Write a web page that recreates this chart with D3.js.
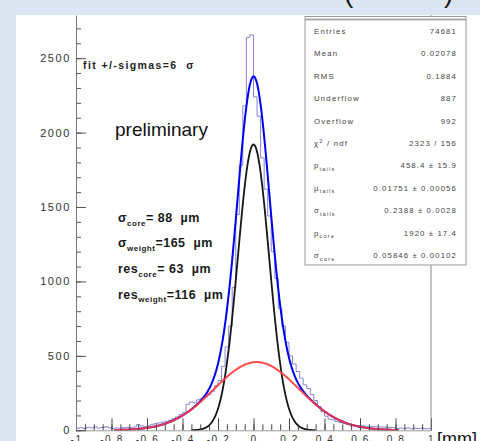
<!DOCTYPE html>
<html><head><meta charset="utf-8">
<script src="https://cdn.jsdelivr.net/npm/d3@7"></script>
<style>
body{margin:0;background:#dce6f2;}
svg{display:block;font-family:"Liberation Sans",Arial,Helvetica,sans-serif;}
</style>
</head><body>
<svg id="c" width="480" height="441"></svg>
<script>
// ---------- data ----------
const binLow = -1, binWidth = 0.02;
const counts = [
  14, 18, 12, 20, 16, 22, 15, 19, 24, 17,
  12, 16, 14, 18, 20, 17, 22, 38, 30, 26,
  30, 40, 45, 50, 55, 60, 66, 78, 90, 105,
  118, 175, 190, 185, 205, 215, 225, 240, 262, 300,
  335, 430, 560, 700, 960, 1450, 1780, 2180, 2640, 2657,
  2240, 2110, 1830, 1620, 1440, 1200, 1020, 820, 700, 590,
  500, 445, 395, 350, 305, 280, 240, 200, 160, 125,
  95, 75, 70, 60, 52, 46, 40, 34, 34, 31,
  30, 28, 27, 25, 24, 23, 22, 21, 20, 18,
  12, 15, 13, 16, 11, 14, 12, 15, 10, 13
];
const xTickValues = [-1, -0.8, -0.6, -0.4, -0.2, 0, 0.2, 0.4, 0.6, 0.8, 1];
const xTickLabels = ["-1", "-0.8", "-0.6", "-0.4", "-0.2", "0", "0.2", "0.4", "0.6", "0.8", "1"];
const yTickValues = [0, 500, 1000, 1500, 2000, 2500];
const yTickLabels = ["0", "500", "1000", "1500", "2000", "2500"];
// fit functions: [amplitude, mean, sigma]
const tailParams = [458.4, 0.01751, 0.2388];
const coreParams = [1920, 0.0, 0.088];
const fitRange = [-0.7825, 0.8175];
const coreRange = [-0.35, 0.35];
const statLabels = [
  [["Entries"]], [["Mean"]], [["RMS"]], [["Underflow"]], [["Overflow"]],
  [["χ"], ["2", "sup"], [" / ndf"]],
  [["p"], ["tails", "sub"]], [["μ"], ["tails", "sub"]], [["σ"], ["tails", "sub"]],
  [["p"], ["core", "sub"]], [["σ"], ["core", "sub"]]
];
const statValues = ["74681", "0.02078", "0.1884", "887", "992", "2323 / 156",
  "458.4 ± 15.9", "0.01751 ± 0.00056", "0.2388 ± 0.0028", "1920 ± 17.4", "0.05846 ± 0.00102"];
const resultLines = [
  [["σ"], ["core", "sub"], ["= 88  µm"]],
  [["σ"], ["weight", "sub"], ["=165  µm"]],
  [["res"], ["core", "sub"], ["= 63  µm"]],
  [["res"], ["weight", "sub"], ["=116  µm"]]
];

// ---------- layout ----------
const svg = d3.select("#c");
const W = 480, H = 441;
const x = d3.scaleLinear().domain([-1, 1]).range([76, 431]);
const y = d3.scaleLinear().domain([0, 2790]).range([430.3, 15]);

svg.append("rect").attr("x", 16).attr("y", 15).attr("width", W - 16).attr("height", H - 15).attr("fill", "#ffffff");

// histogram
const edges = counts.map((c, i) => ({e: binLow + i * binWidth, c}));
edges.push({e: binLow + counts.length * binWidth, c: counts[counts.length - 1]});
svg.append("path")
  .attr("d", d3.line().x(d => x(d.e)).y(d => y(d.c)).curve(d3.curveStepAfter)(edges))
  .attr("fill", "none").attr("stroke", "#8585d6").attr("stroke-width", 1);

const gauss = (p, v) => p[0] * Math.exp(-((v - p[1]) ** 2) / (2 * p[2] * p[2]));
function sample(range, f) {
  const n = 500, pts = [];
  for (let i = 0; i <= n; i++) { const v = range[0] + (range[1] - range[0]) * i / n; pts.push([v, f(v)]); }
  return pts;
}
const ln = d3.line().x(d => x(d[0])).y(d => y(d[1]));
svg.append("path").attr("d", ln(sample(fitRange, v => gauss(coreParams, v) + gauss(tailParams, v))))
  .attr("fill", "none").attr("stroke", "#0000f0").attr("stroke-width", 2);
svg.append("path").attr("d", ln(sample(coreRange, v => gauss(coreParams, v))))
  .attr("fill", "none").attr("stroke", "#161616").attr("stroke-width", 1.8);
svg.append("path").attr("d", ln(sample(fitRange, v => gauss(tailParams, v))))
  .attr("fill", "none").attr("stroke", "#ff3a3a").attr("stroke-width", 2).attr("stroke-opacity", 0.9);

// axes
const gx = svg.append("g").attr("transform", "translate(0,430.3)");
gx.call(d3.axisBottom(x).tickValues(d3.range(-1, 1.0001, 0.05)).tickSizeInner(-6).tickSizeOuter(0).tickFormat(""));
gx.call(g => g.select(".domain").remove());
const gx2 = svg.append("g").attr("transform", "translate(0,430.3)");
gx2.call(d3.axisBottom(x).tickValues(xTickValues).tickSizeInner(-12).tickSizeOuter(0)
  .tickPadding(6).tickFormat((d, i) => xTickLabels[i]));
gx2.select(".domain").attr("stroke", "#999");
svg.selectAll("g.tick line").attr("stroke", "#444");
gx2.selectAll("text").attr("font-size", 10).attr("fill", "#333").attr("letter-spacing", "1.6px")
  .attr("font-family", "Liberation Sans, Arial, sans-serif");

const gy = svg.append("g").attr("transform", "translate(76,0)");
gy.call(d3.axisLeft(y).tickValues(d3.range(0, 2790, 100)).tickSizeInner(-5).tickSizeOuter(0).tickFormat(""));
gy.call(g => g.select(".domain").remove());
gy.selectAll("line").attr("stroke", "#555");
const gy2 = svg.append("g").attr("transform", "translate(76,0)");
gy2.call(d3.axisLeft(y).tickValues(yTickValues).tickSizeInner(-10).tickSizeOuter(0)
  .tickPadding(5).tickFormat((d, i) => yTickLabels[i]));
gy2.select(".domain").attr("stroke", "#777");
gy2.selectAll("line").attr("stroke", "#555");
gy2.selectAll("text").attr("font-size", 11).attr("fill", "#333").attr("letter-spacing", "1.6px")
  .attr("font-family", "Liberation Sans, Arial, sans-serif");

// right frame line
svg.append("line").attr("x1", 431).attr("x2", 431).attr("y1", 15).attr("y2", 430.3)
  .attr("stroke", "#888").attr("stroke-width", 1);

// rich text helper: segments [text, kind]
function rich(sel, segs, size, subSize) {
  let acc = 0;
  segs.forEach(s => {
    const want = s[1] === "sub" ? size * 0.3 : s[1] === "sup" ? -size * 0.4 : 0;
    sel.append("tspan").text(s[0])
      .attr("font-size", s[1] ? subSize : size)
      .attr("dy", want - acc);
    acc = want;
  });
}

// stats box
const bx0 = 305, bx1 = 466, by0 = 16.5, by1 = 265;
svg.append("rect").attr("x", bx0).attr("y", by0).attr("width", bx1 - bx0).attr("height", by1 - by0)
  .attr("fill", "#fff").attr("stroke", "#999").attr("stroke-width", 1);
svg.append("line").attr("x1", bx0).attr("x2", bx1).attr("y1", 19.5).attr("y2", 19.5)
  .attr("stroke", "#aaa").attr("stroke-width", 2);
statLabels.forEach((segs, i) => {
  const yy = 31 + i * 22.45 + 2.7;
  const t = svg.append("text").attr("x", 314).attr("y", yy).attr("fill", "#444")
    .attr("letter-spacing", "1.2px").style("white-space", "pre");
  rich(t, segs, 7.8, 5.5);
  svg.append("text").attr("x", 457).attr("y", yy).attr("text-anchor", "end").attr("fill", "#444")
    .attr("font-size", 7.8).attr("letter-spacing", "1.1px").style("white-space", "pre").text(statValues[i]);
});

// annotations
svg.append("text").attr("x", 83).attr("y", 69).attr("font-size", 10.5).attr("font-weight", "bold")
  .attr("fill", "#222").attr("letter-spacing", "1.4px").style("white-space", "pre").text("fit +/-sigmas=6  σ");
svg.append("text").attr("x", 115).attr("y", 135.5).attr("font-size", 19).attr("fill", "#111")
  .text("preliminary");
resultLines.forEach((segs, i) => {
  const t = svg.append("text").attr("x", 118).attr("y", [222, 247, 273, 298.5][i])
    .attr("font-weight", "bold").attr("fill", "#1a1a1a").attr("letter-spacing", "0.5px")
    .style("white-space", "pre");
  rich(t, segs, 12.5, 8);
});

// unit label
svg.append("text").attr("x", 437).attr("y", 445).attr("font-size", 18).attr("fill", "#111").text("[mm]");

// top band with title fragments
svg.append("rect").attr("x", 0).attr("y", 0).attr("width", W).attr("height", 15).attr("fill", "#dce6f2");
svg.append("text").attr("x", 344).attr("y", 2).attr("font-size", 28).attr("fill", "#1a1a1a").text("(");
svg.append("text").attr("x", 444).attr("y", 2).attr("font-size", 28).attr("fill", "#1a1a1a").text(")");
</script>
</body></html>
